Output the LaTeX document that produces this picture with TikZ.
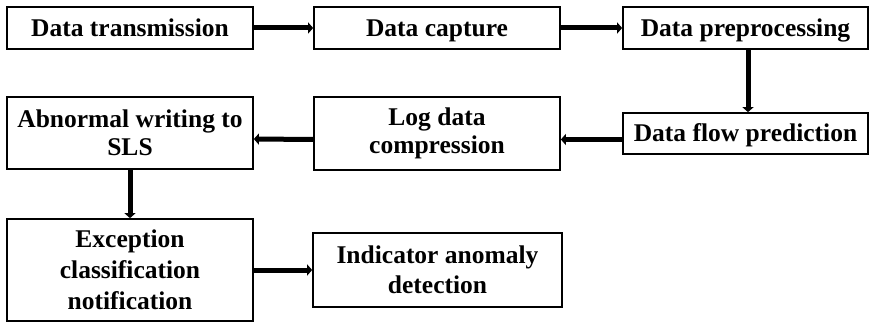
\documentclass[tikz,border=0pt]{standalone}
\usepackage{fontspec}
\setmainfont{Liberation Serif}
\usetikzlibrary{arrows.meta}
\tikzstyle{every node}=[font=\bfseries\fontsize{25.5}{28.5}\selectfont,align=center,inner sep=0pt]
\tikzstyle{stage}=[draw=black,line width=1.7pt,minimum width=246pt]
\tikzstyle{oneline}=[text height=17pt,text depth=0.5pt]
\tikzstyle{link}=[line width=5pt,-{Triangle[length=5pt,width=11pt]}]

\begin{document}
\begin{tikzpicture}[x=1pt,y=-1pt]
    \useasboundingbox (0,0) rectangle (869,323);
    % top row
    \node[stage,oneline,minimum height=42pt] (trans) at (130,28) {Data transmission};
    \node[stage,oneline,minimum height=42pt] (capture) at (437,28) {Data capture};
    \node[stage,oneline,minimum height=42pt,minimum width=245pt] (prep) at (745.5,28) {Data preprocessing};
    % middle row
    \node[stage,oneline,minimum height=41pt,minimum width=245pt] (predict) at (745.5,133.5) {Data flow prediction};
    \node[stage,minimum height=73pt] (compress) at (437,133.5) {Log data\\compression};
    \node[stage,minimum height=72pt] (sls) at (130,133) {Abnormal writing to\\SLS};
    % bottom row
    \node[stage,minimum height=102pt,font=\bfseries\fontsize{25.5}{31}\selectfont] (notify) at (130,270) {Exception\\classification\\notification};
    \node[stage,minimum height=74pt,minimum width=249pt,font=\bfseries\fontsize{25.5}{30}\selectfont] (detect) at (437.5,270) {Indicator anomaly\\detection};

    \draw[link] (trans) -- (capture);
    \draw[link] (capture) -- (prep);
    \draw[link] ([xshift=2.5pt]prep.south) -- ([xshift=2.5pt]predict.north);
    \draw[link] ([yshift=-6pt]predict.west) -- ([yshift=-6pt]compress.east);
    \draw[link] ([yshift=-6pt]compress.west) -- ([yshift=-6pt]sls.east);
    \draw[link] (sls) -- (notify);
    \draw[link] (notify) -- (detect);
\end{tikzpicture}
\end{document}
